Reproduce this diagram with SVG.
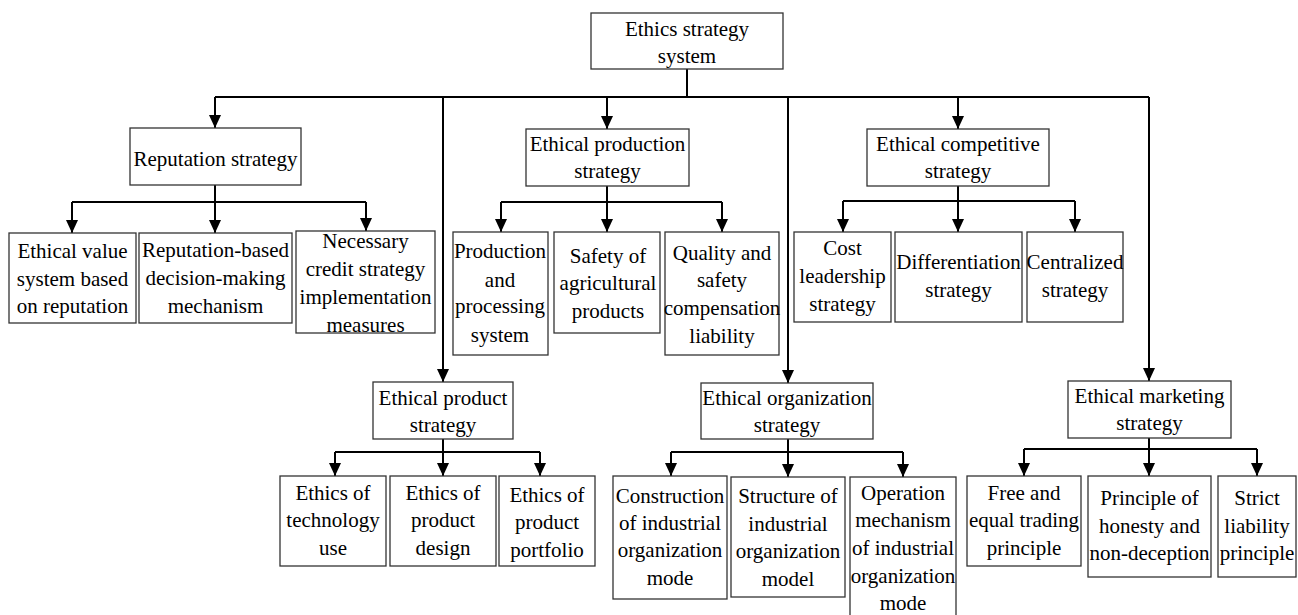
<svg xmlns="http://www.w3.org/2000/svg" width="1298" height="615" viewBox="0 0 1298 615">
<style>
.box{fill:#fff;stroke:#333;stroke-width:1.3}
.t{font-family:"Liberation Serif","Times New Roman",serif;font-size:21px;text-anchor:middle;fill:#000}
.c{fill:none;stroke:#000;stroke-width:2}
.a{marker-end:url(#arr)}
</style>
<defs>
<marker id="arr" markerUnits="userSpaceOnUse" markerWidth="13" markerHeight="12" refX="13" refY="6" orient="auto">
<path d="M0,0 L13,6 L0,12 z" fill="#000"/>
</marker>
</defs>
<rect width="1298" height="615" fill="#fff"/>
<g id="connectors">
<path class="c" d="M687,69 V97 M215,97 H1149"/>
<path class="c a" d="M215,97 V128"/>
<path class="c a" d="M443,97 V382"/>
<path class="c a" d="M607,97 V129"/>
<path class="c a" d="M788,97 V383"/>
<path class="c a" d="M958,97 V129"/>
<path class="c a" d="M1149,97 V381"/>
<path class="c" d="M72,202 H366"/>
<path class="c a" d="M215,185 V233"/>
<path class="c a" d="M72,202 V233"/>
<path class="c a" d="M366,202 V231"/>
<path class="c" d="M501,202 H722"/>
<path class="c a" d="M607,186 V232"/>
<path class="c a" d="M501,202 V232"/>
<path class="c a" d="M722,202 V232"/>
<path class="c" d="M843,201 H1075"/>
<path class="c a" d="M958,186 V232"/>
<path class="c a" d="M843,201 V232"/>
<path class="c a" d="M1075,201 V232"/>
<path class="c" d="M335,452 H540"/>
<path class="c a" d="M443,439 V476"/>
<path class="c a" d="M335,452 V476"/>
<path class="c a" d="M540,452 V476"/>
<path class="c" d="M671,452 H903"/>
<path class="c a" d="M788,439 V477"/>
<path class="c a" d="M671,452 V476"/>
<path class="c a" d="M903,452 V477"/>
<path class="c" d="M1024,449 H1257"/>
<path class="c a" d="M1149,438 V476"/>
<path class="c a" d="M1024,449 V476"/>
<path class="c a" d="M1257,449 V476"/>
</g>
<g id="root"><rect class="box" x="591" y="13" width="192" height="56"/><text class="t"><tspan x="687" y="36">Ethics strategy</tspan><tspan x="687" y="63">system</tspan></text></g>
<g id="reputation"><rect class="box" x="130" y="128" width="171" height="57"/><text class="t" x="215.5" y="166">Reputation strategy</text></g>
<g id="rep1"><rect class="box" x="9" y="233" width="127" height="90"/><text class="t"><tspan x="72.5" y="258">Ethical value</tspan><tspan x="72.5" y="286">system based</tspan><tspan x="72.5" y="313">on reputation</tspan></text></g>
<g id="rep2"><rect class="box" x="139" y="233" width="153" height="90"/><text class="t"><tspan x="215.5" y="257">Reputation-based</tspan><tspan x="215.5" y="285">decision-making</tspan><tspan x="215.5" y="313">mechanism</tspan></text></g>
<g id="rep3"><rect class="box" x="296" y="231" width="139" height="102"/><text class="t"><tspan x="365.5" y="248">Necessary</tspan><tspan x="365.5" y="276">credit strategy</tspan><tspan x="365.5" y="304">implementation</tspan><tspan x="365.5" y="332">measures</tspan></text></g>
<g id="production"><rect class="box" x="526" y="129" width="163" height="57"/><text class="t"><tspan x="607.5" y="151">Ethical production</tspan><tspan x="607.5" y="178">strategy</tspan></text></g>
<g id="prod1"><rect class="box" x="453" y="232" width="95" height="123"/><text class="t"><tspan x="500" y="258">Production</tspan><tspan x="500" y="287">and</tspan><tspan x="500" y="313">processing</tspan><tspan x="500" y="342">system</tspan></text></g>
<g id="prod2"><rect class="box" x="554" y="232" width="106" height="101"/><text class="t"><tspan x="608" y="263">Safety of</tspan><tspan x="608" y="290">agricultural</tspan><tspan x="608" y="318">products</tspan></text></g>
<g id="prod3"><rect class="box" x="665" y="232" width="114" height="123"/><text class="t"><tspan x="722" y="260">Quality and</tspan><tspan x="722" y="287">safety</tspan><tspan x="722" y="315">compensation</tspan><tspan x="722" y="343">liability</tspan></text></g>
<g id="competitive"><rect class="box" x="867" y="129" width="182" height="57"/><text class="t"><tspan x="958" y="151">Ethical competitive</tspan><tspan x="958" y="178">strategy</tspan></text></g>
<g id="comp1"><rect class="box" x="794" y="232" width="97" height="90"/><text class="t"><tspan x="842.5" y="255">Cost</tspan><tspan x="842.5" y="283">leadership</tspan><tspan x="842.5" y="311">strategy</tspan></text></g>
<g id="comp2"><rect class="box" x="895" y="232" width="127" height="90"/><text class="t"><tspan x="958.5" y="269">Differentiation</tspan><tspan x="958.5" y="297">strategy</tspan></text></g>
<g id="comp3"><rect class="box" x="1027" y="232" width="96" height="90"/><text class="t"><tspan x="1075" y="269">Centralized</tspan><tspan x="1075" y="297">strategy</tspan></text></g>
<g id="product"><rect class="box" x="373" y="382" width="140" height="57"/><text class="t"><tspan x="443" y="405">Ethical product</tspan><tspan x="443" y="432">strategy</tspan></text></g>
<g id="product1"><rect class="box" x="280" y="476" width="106" height="90"/><text class="t"><tspan x="333" y="500">Ethics of</tspan><tspan x="333" y="527">technology</tspan><tspan x="333" y="555">use</tspan></text></g>
<g id="product2"><rect class="box" x="390" y="476" width="106" height="90"/><text class="t"><tspan x="443" y="500">Ethics of</tspan><tspan x="443" y="527">product</tspan><tspan x="443" y="555">design</tspan></text></g>
<g id="product3"><rect class="box" x="499" y="476" width="96" height="90"/><text class="t"><tspan x="547" y="502">Ethics of</tspan><tspan x="547" y="529">product</tspan><tspan x="547" y="557">portfolio</tspan></text></g>
<g id="organization"><rect class="box" x="701" y="383" width="172" height="56"/><text class="t"><tspan x="787" y="405">Ethical organization</tspan><tspan x="787" y="432">strategy</tspan></text></g>
<g id="org1"><rect class="box" x="613" y="476" width="114" height="123"/><text class="t"><tspan x="670" y="503">Construction</tspan><tspan x="670" y="530">of industrial</tspan><tspan x="670" y="557">organization</tspan><tspan x="670" y="585">mode</tspan></text></g>
<g id="org2"><rect class="box" x="731" y="477" width="114" height="120"/><text class="t"><tspan x="788" y="503">Structure of</tspan><tspan x="788" y="531">industrial</tspan><tspan x="788" y="558">organization</tspan><tspan x="788" y="586">model</tspan></text></g>
<g id="org3"><rect class="box" x="850" y="477" width="106" height="142"/><text class="t"><tspan x="903" y="500">Operation</tspan><tspan x="903" y="527">mechanism</tspan><tspan x="903" y="555">of industrial</tspan><tspan x="903" y="583">organization</tspan><tspan x="903" y="610">mode</tspan></text></g>
<g id="marketing"><rect class="box" x="1068" y="381" width="163" height="57"/><text class="t"><tspan x="1149.5" y="403">Ethical marketing</tspan><tspan x="1149.5" y="430">strategy</tspan></text></g>
<g id="mkt1"><rect class="box" x="967" y="476" width="114" height="90"/><text class="t"><tspan x="1024" y="500">Free and</tspan><tspan x="1024" y="527">equal trading</tspan><tspan x="1024" y="555">principle</tspan></text></g>
<g id="mkt2"><rect class="box" x="1088" y="476" width="123" height="101"/><text class="t"><tspan x="1149.5" y="505">Principle of</tspan><tspan x="1149.5" y="533">honesty and</tspan><tspan x="1149.5" y="560">non-deception</tspan></text></g>
<g id="mkt3"><rect class="box" x="1218" y="476" width="78" height="101"/><text class="t"><tspan x="1257" y="505">Strict</tspan><tspan x="1257" y="533">liability</tspan><tspan x="1257" y="560">principle</tspan></text></g>
</svg>
